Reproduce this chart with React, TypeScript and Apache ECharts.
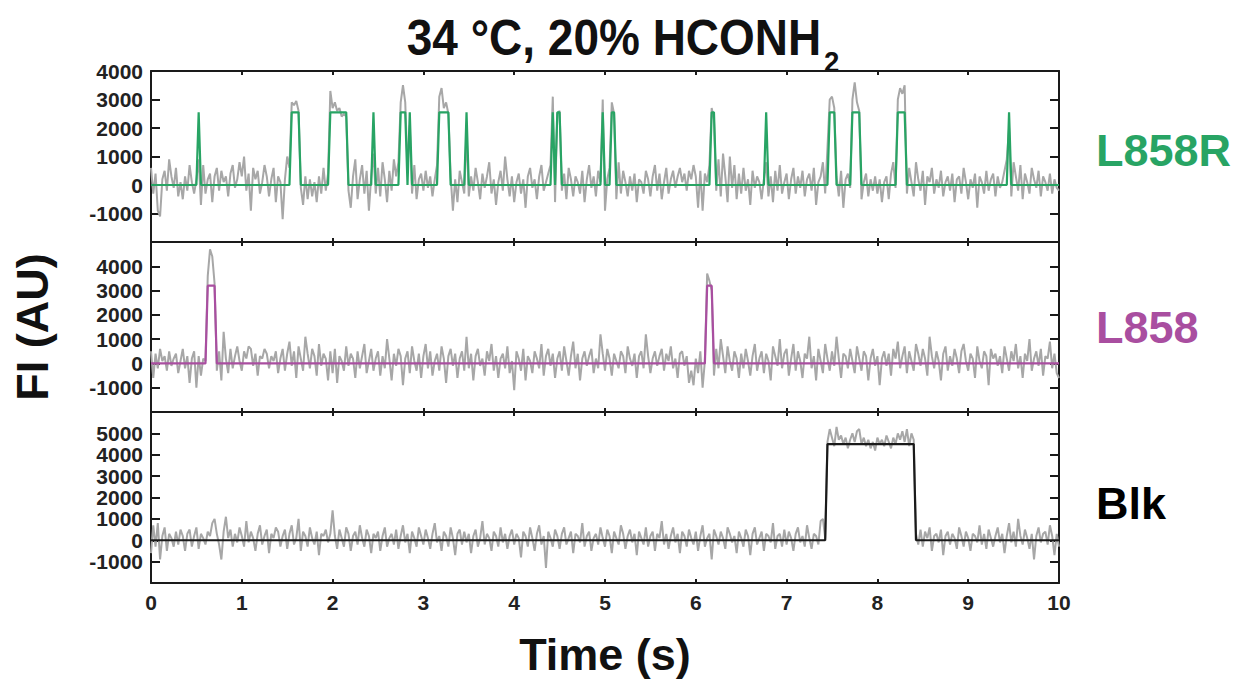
import React, { useEffect, useRef } from "react";
import * as echarts from "echarts";

const FRAME_S = 0.025;
const Y_MIN = -2000;
const Y_MAX = [4000, 5000, 6000];
const Y_INTERVAL = 1000;
const X_MIN = 0;
const X_MAX = 10;

const PANEL_NAMES = ["L858R", "L858", "Blk"];
const PANEL_COLORS = ["#28a464", "#a94ea0", "#1a1a1a"];
const LEVELS = [2550, 3200, 4500];

// dwell events (start s, end s) of the idealized traces
const L858R_EVENTS = [
  [0.525, 0.525], [1.55, 1.625], [1.975, 2.15], [2.45, 2.45], [2.75, 2.8], [2.85, 2.85],
  [3.175, 3.275], [3.475, 3.475], [4.425, 4.425], [4.475, 4.5], [4.975, 4.975], [5.075, 5.1],
  [6.175, 6.2], [6.775, 6.775], [7.475, 7.525], [7.725, 7.8], [8.225, 8.3], [9.45, 9.45],
];
const L858_EVENTS = [[0.625, 0.7], [6.125, 6.175]];
const BLK_EVENTS = [[7.45, 8.4]];

// raw fluorescence traces (AU), one value per frame
const L858R_TRACE = [
  600, -300, 400, -900, -1100, 200, 500, -200, 900, 300, -100, 600, -400, 100, -500, 300, -200, 700, 100, -300,
  200, 900, -700, 700, -300, 200, 400, -600, 300, 600, -200, 500, 100, 300, -400, 400, 700, -100, 200, 800,
  300, 1000, -200, 400, -900, 600, 200, 500, -300, 100, 700, 300, -400, 200, 600, -600, 300, 100, -1200, 200,
  1000, 600, 2900, 2800, 2950, 2600, -100, -700, 300, -500, 200, -400, 100, -600, 300, -300, 600, -200, 400, 3300,
  2700, 2900, 2600, 2700, 2400, 2500, 2400, -200, -800, 300, 900, -500, 200, 700, -300, 500, -900, 300, 1100, -300,
  600, -400, 800, 200, -600, 500, -200, 900, 300, 800, 2900, 3500, 2900, 600, 2100, -300, 700, -500, 200, 400,
  -200, 500, -100, 300, -400, 200, 700, 3100, 3400, 2700, 2900, 2500, 300, -900, 200, -600, 500, 100, -300, 1900,
  -400, 300, -200, 600, 100, -500, 400, -100, 300, 800, -300, 200, -700, 100, 500, -200, 1000, 200, -400, 300,
  -600, 100, 400, -300, 200, -800, 300, 600, -100, 200, -500, 300, 700, -200, 100, 400, 700, 3100, -600, 2500,
  2600, -200, 400, -500, 600, 200, -400, 300, 100, -300, 500, -600, 200, 700, -100, 300, -400, 500, 100, 3000,
  -900, 200, 600, 2900, 2500, -500, 800, -300, 500, 100, -400, 300, -200, 400, -600, 200, 100, -300, 500, 200,
  -400, 300, 700, -200, 400, -500, 100, 600, -300, 200, 500, -100, 300, 600, 100, 400, -200, 500, 200, 700,
  300, -800, 500, -900, 400, 100, 700, 2700, 2300, -200, 900, -400, 1100, 300, -600, 1000, -100, 700, -500, 400,
  -300, 600, -200, 200, -700, 500, -100, 300, 100, -500, 200, 800, -400, 300, -600, 500, -200, 700, -300, 100,
  400, -500, 200, 600, -300, 300, -100, 500, -400, 200, 400, -200, 600, -700, 100, 300, 800, -300, 1300, 3000,
  3100, 2700, 300, -400, 500, -800, 200, 400, -100, 3000, 3600, 2900, 2600, -500, 100, 400, -400, 200, -200, 300,
  -300, 200, -600, 100, 300, -500, 400, 800, -100, 3000, 3400, 3200, 3500, -300, 600, 100, -400, 800, 200, -200,
  500, -700, 300, 100, 600, -300, 200, -100, 500, -400, 100, 300, -200, 400, -600, 200, 300, -300, 600, 100,
  -500, 200, -100, 400, -800, 300, 100, -300, 500, -200, 200, 400, -400, 300, -100, 100, 500, 900, 2000, -400,
  800, 300, -200, 700, -500, 400, 100, -300, 600, 200, -100, 500, -400, 300, 100, -200, 400, -300, 200, -100,
  -200,
];

const L858_TRACE = [
  500, -600, 400, -200, 600, 100, 300, -300, 500, -100, 200, 400, -400, 100, 600, -200, 300, -800, 200, 500,
  -1000, 300, -500, 200, 100, 3600, 4700, 4400, 3300, -300, 500, -700, 1300, 200, -400, 600, -200, 300, 700, 100,
  -300, 500, 200, 700, 600, -100, 400, -500, 300, 200, 600, 400, -200, 300, 100, 500, -400, 200, 600, -300,
  400, 900, -100, 500, -600, 700, 200, -300, 1100, 400, -200, 600, 300, -500, 800, -100, 400, 200, -700, 500,
  -400, 600, -800, 300, 100, -300, 700, -100, 400, 200, -600, 500, -200, 300, 800, -400, 100, 600, -300, 200,
  500, -500, 300, -200, 1000, 200, -700, 400, -100, 600, 300, -900, 200, 500, -400, 700, 100, -300, 400, -600,
  300, 800, -200, 500, -500, 100, 400, -300, 700, 200, -800, 300, 600, -100, 400, -600, 200, 500, -300, 1100,
  -200, 400, -700, 300, 600, -100, 200, -500, 500, 100, 800, -300, 300, -600, 200, 400, -200, 700, -400, 100,
  -1100, 500, 200, -300, 600, -700, 300, 100, -400, 500, 200, -200, 800, -500, 300, 600, -100, 400, -600, 200,
  500, -300, 700, 100, -500, 300, 900, -200, 400, -700, 200, 500, -100, 300, 600, -400, 200, -200, 1200, 400,
  -300, 600, 200, -500, 400, 100, -200, 500, 300, -400, 700, 200, -100, 400, -600, 300, 500, -200, 1200, 300,
  -400, 200, 500, -100, 300, 600, -300, 400, 100, 700, -200, 200, -600, 400, 500, -100, 300, -800, -300, -900,
  200, -400, 500, -1000, 100, 3700, 3400, 3000, -500, 600, -200, 1000, 300, -400, 700, 100, -300, 500, 200, -600,
  400, -200, 600, 100, -500, 300, 800, -300, 200, 500, -400, 400, 100, -700, 700, 300, -100, 1000, -200, 400,
  600, -500, 200, 800, -300, 500, 100, -600, 400, 200, 1100, -200, 300, -700, 600, 100, -400, 800, 200, -300,
  500, -100, 1100, 200, -600, 400, 300, -200, 600, 100, -400, 700, 200, -300, 500, 300, -700, 200, 600, -100,
  300, -900, 200, 500, -100, 400, -500, 600, 200, 900, -200, 300, 700, -400, 500, 100, -300, 800, 400, -100,
  600, 200, -500, 1100, 300, -200, 500, 100, -700, 400, 700, -300, 300, -100, 600, 200, -400, 500, 800, 100,
  -300, 400, 200, -600, 700, 100, -200, 500, 300, -900, 600, 200, 400, -100, 300, -400, 700, 200, -300, 500,
  100, 800, -200, 300, -600, 400, 100, 1000, -300, 200, 500, -100, 600, -500, 300, 200, 900, -200, 400, -400,
  -600,
];

const BLK_TRACE = [
  -600, 700, -300, 800, -900, 200, 600, -500, 300, 100, -300, 400, -200, 500, 200, -500, 300, 500, -300, 200,
  600, -400, 300, 100, -200, 400, 200, 800, 1000, 300, -200, -900, 400, 1100, 100, 500, -300, 300, -100, 600,
  200, -300, 900, -100, 400, 100, -500, 300, 700, -200, 200, 500, -600, 300, 100, 600, 400, -300, 200, 500,
  -400, 300, 700, -200, 100, 1000, -500, 400, 200, -300, 600, 100, -200, 400, -700, 300, 200, 500, -100, 300,
  1400, 200, -400, 500, 100, -300, 600, 300, -500, 200, 400, -200, 700, 100, -300, 500, 200, -600, 300, 100,
  400, -500, 200, 600, -300, 100, 300, -200, 500, -400, 200, 700, -100, 300, -600, 400, 100, -300, 600, 200,
  -200, 500, 100, -400, 300, 800, -100, 200, -500, 400, 200, -300, 600, 100, -700, 300, 500, -200, 400, -100,
  300, -600, 200, 500, -300, 100, 900, -200, 300, 100, -500, 400, 200, -300, 600, -100, 300, -400, 200, 500,
  -200, 300, 100, -800, 400, 200, -300, 600, 100, -500, 300, 700, -200, 200, -1300, 400, 100, -300, 500, 200,
  -400, 300, 600, -200, 100, 400, -600, 300, 200, -100, 800, -300, 200, 400, -500, 100, 300, -200, 600, 100,
  -300, 500, 200, -600, 400, 100, -200, 700, 300, -400, 200, 500, -100, 300, -700, 400, 100, -200, 600, -300,
  200, 400, -500, 300, 100, 900, -200, 300, -400, 200, 600, -100, 300, -600, 400, 200, -300, 500, 100, -200,
  400, -500, 200, 700, -300, 100, 300, -900, 500, 200, -200, 400, 100, -400, 600, 300, -100, 200, -600, 400,
  100, -300, 500, 200, -700, 300, 600, -200, 100, 400, -500, 300, 200, -100, 800, -400, 200, 300, -300, 500,
  -200, 400, 100, -500, 300, 600, -100, 200, -300, 700, 100, -400, 300, 200, -200, 900, 1000, 100, 4600, 5200,
  4800, 4400, 5300, 4700, 4900, 4500, 4800, 4300, 4700, 5000, 4600, 5100, 5200, 4500, 4800, 4400, 4700, 4300, 4600, 4200,
  4800, 4500, 4700, 4400, 4900, 4600, 4300, 4800, 4500, 5000, 4700, 5100, 4600, 5200, 4400, 5000, 4700, 300, -200, 500,
  -300, 400, 100, 600, -500, 200, 300, -100, 500, -700, 200, 400, -200, 300, 100, -400, 600, 200, -300, 400,
  100, -500, 300, 200, -100, 700, -200, 300, -400, 500, 100, -300, 200, 600, -100, 300, -600, 200, 800, -100,
  400, -300, 1000, 200, -200, 500, 100, -400, 300, -900, 200, 600, -100, 300, 400, -200, 700, 200, -700, 300,
  -300,
];

const TRACES = [L858R_TRACE, L858_TRACE, BLK_TRACE];
const EVENTS = [L858R_EVENTS, L858_EVENTS, BLK_EVENTS];

const FONT = '"Liberation Sans", Arial, Helvetica, sans-serif';
const AXIS_COLOR = "#1a1a1a";
const TRACE_COLOR = "#a7a7a7";

const GRIDS = [
  { left: 151, top: 71, width: 908, height: 171 },
  { left: 151, top: 242, width: 908, height: 170 },
  { left: 151, top: 412, width: 908, height: 171 },
];
const LABEL_Y = [150, 327, 503];

function buildOption() {
  const xAxis: any[] = [];
  const yAxis: any[] = [];
  const series: any[] = [];
  GRIDS.forEach((_, g) => {
    const lineStyle = { color: AXIS_COLOR, width: 2 };
    ["bottom", "top"].forEach((pos) => {
      xAxis.push({
        type: "value",
        gridIndex: g,
        position: pos,
        min: X_MIN,
        max: X_MAX,
        interval: 1,
        axisLine: { show: true, onZero: false, lineStyle },
        axisTick: { show: true, inside: true, length: 4, lineStyle },
        axisLabel: {
          show: pos === "bottom" && g === 2,
          fontSize: 21,
          fontWeight: "bold",
          fontFamily: FONT,
          color: "#222",
          margin: 9,
          formatter: (v: number) => String(v),
        },
        splitLine: { show: false },
      });
    });
    ["left", "right"].forEach((pos) => {
      yAxis.push({
        type: "value",
        gridIndex: g,
        position: pos,
        min: Y_MIN,
        max: Y_MAX[g],
        interval: Y_INTERVAL,
        axisLine: { show: true, onZero: false, lineStyle },
        axisTick: { show: true, inside: true, length: 9, lineStyle },
        axisLabel: {
          show: pos === "left",
          fontSize: 21,
          fontWeight: "bold",
          fontFamily: FONT,
          color: "#222",
          margin: 8,
          showMinLabel: false,
          showMaxLabel: g === 0,
          formatter: (v: number) => String(v),
        },
        splitLine: { show: false },
      });
    });
    const trace = TRACES[g];
    const ev = EVENTS[g];
    const raw = trace.map((v, i) => [i * FRAME_S, v]);
    const step = trace.map((_, i) => {
      const t = i * FRAME_S;
      const on = ev.some(([a, b]) => t >= a - 1e-6 && t <= b + 1e-6);
      return [t, on ? LEVELS[g] : 0];
    });
    series.push({
      type: "line",
      xAxisIndex: g * 2,
      yAxisIndex: g * 2,
      data: raw,
      showSymbol: false,
      symbol: "none",
      lineStyle: { color: TRACE_COLOR, width: 2 },
      z: 2,
    });
    series.push({
      type: "line",
      xAxisIndex: g * 2,
      yAxisIndex: g * 2,
      data: step,
      showSymbol: false,
      symbol: "none",
      lineStyle: { color: PANEL_COLORS[g], width: 2.2 },
      z: 3,
    });
  });

  const graphic: any[] = [
    {
      type: "text",
      x: 614,
      y: 38,
      scaleX: 0.92,
      style: {
        text: "34 °C, 20% HCONH",
        font: `bold 50px ${FONT}`,
        fill: "#111",
        textAlign: "center",
        textVerticalAlign: "middle",
      },
    },
    {
      type: "text",
      x: 824,
      y: 62,
      scaleX: 0.92,
      style: {
        text: "2",
        font: `bold 30px ${FONT}`,
        fill: "#111",
        textAlign: "left",
        textVerticalAlign: "middle",
      },
    },
    {
      type: "text",
      x: 32,
      y: 327,
      rotation: Math.PI / 2,
      style: {
        text: "FI (AU)",
        font: `bold 45px ${FONT}`,
        fill: "#111",
        textAlign: "center",
        textVerticalAlign: "middle",
      },
    },
    {
      type: "text",
      x: 605,
      y: 654,
      style: {
        text: "Time (s)",
        font: `bold 45px ${FONT}`,
        fill: "#111",
        textAlign: "center",
        textVerticalAlign: "middle",
      },
    },
  ];
  PANEL_NAMES.forEach((name, g) => {
    graphic.push({
      type: "text",
      x: 1096,
      y: LABEL_Y[g],
      style: {
        text: name,
        font: `bold 45px ${FONT}`,
        fill: PANEL_COLORS[g] === "#1a1a1a" ? "#000" : PANEL_COLORS[g],
        textAlign: "left",
        textVerticalAlign: "middle",
      },
    });
  });

  return {
    animation: false,
    backgroundColor: "#ffffff",
    grid: GRIDS.map((r) => ({ ...r, containLabel: false })),
    xAxis,
    yAxis,
    series,
    graphic,
  };
}

export default function App() {
  const ref = useRef<HTMLDivElement>(null);
  useEffect(() => {
    if (!ref.current) return;
    const chart = echarts.init(ref.current, undefined, { renderer: "svg" });
    chart.setOption(buildOption() as any);
    return () => chart.dispose();
  }, []);
  return (
    <div
      ref={ref}
      style={{ position: "fixed", left: 0, top: 0, width: 1237, height: 679, background: "#fff" }}
    />
  );
}
